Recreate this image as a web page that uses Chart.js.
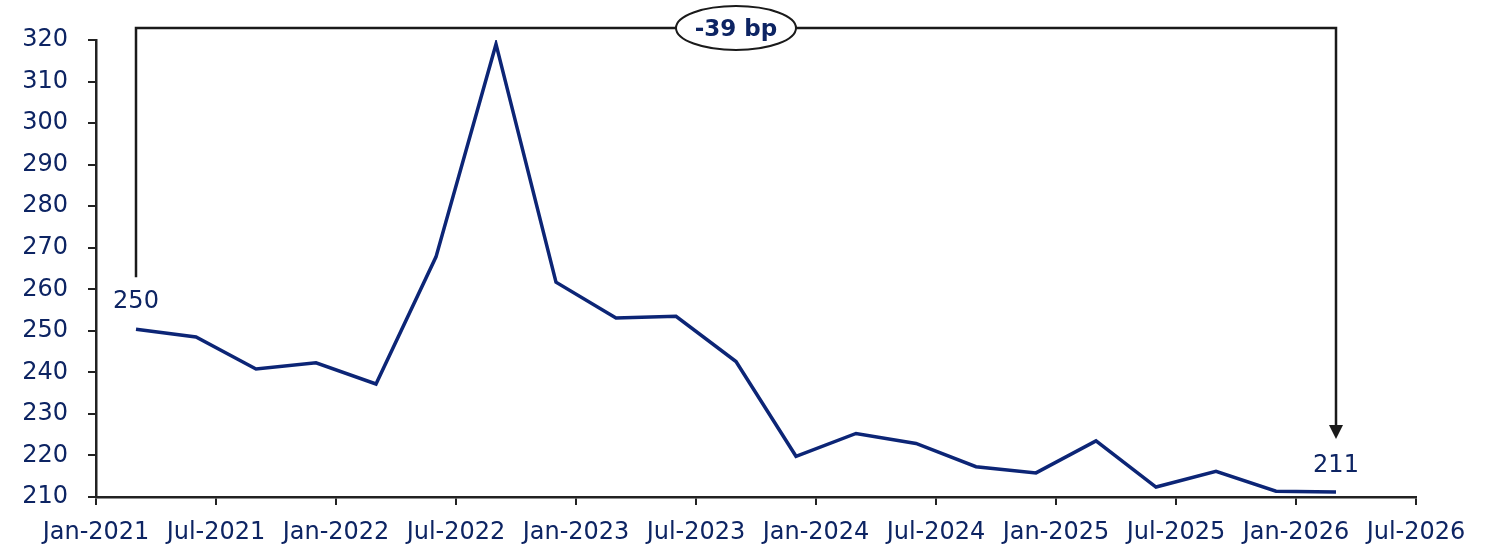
<!DOCTYPE html>
<html>
<head>
<meta charset="utf-8">
<script src="https://cdn.jsdelivr.net/npm/chart.js@4/dist/chart.umd.min.js"></script>
<style>
  html, body { margin: 0; padding: 0; background: #ffffff; }
  #wrap { width: 1486px; height: 548px; position: relative; }
</style>
</head>
<body>
<div id="wrap"><canvas id="c" width="1486" height="548"></canvas></div>
<script>
// Months since Jan-2021 for each observation
const months = [2, 5, 8, 11, 14, 17, 20, 23, 26, 29, 32, 35, 38, 41, 44, 47, 50, 53, 56, 59, 62];
const spreadValues = [250.4, 248.5, 240.8, 242.3, 237.2, 267.8, 319.0, 261.7, 253.1, 253.5, 242.6, 219.8, 225.3, 222.9, 217.3, 215.8, 223.5, 212.4, 216.2, 211.4, 211.2];
const xTickLabels = ["Jan-2021", "Jul-2021", "Jan-2022", "Jul-2022", "Jan-2023", "Jul-2023", "Jan-2024", "Jul-2024", "Jan-2025", "Jul-2025", "Jan-2026", "Jul-2026"];
const startLabel = "250";
const endLabel = "211";
const changeLabel = "-39 bp";

const NAVY = "#0d2463";
const LINE = "#0c2576";
const AXIS = "#222222";
const FONT = "'DejaVu Sans', 'Liberation Sans', Arial, sans-serif";

const points = months.map((m, i) => ({ x: m, y: spreadValues[i] }));

const annot = {
  id: "annot",
  afterDatasetsDraw(chart) {
    const { ctx, scales } = chart;
    const xs = scales.x, ys = scales.y;
    const first = points[0], last = points[points.length - 1];
    const x0 = xs.getPixelForValue(first.x);
    const x1 = xs.getPixelForValue(last.x);
    const yFirst = ys.getPixelForValue(first.y);
    const yLast = ys.getPixelForValue(last.y);
    const topY = 28;

    ctx.save();
    ctx.strokeStyle = "#1a1a1a";
    ctx.lineWidth = 2.5;
    ctx.beginPath();
    ctx.moveTo(x0, yFirst - 52);
    ctx.lineTo(x0, topY);
    ctx.lineTo(x1, topY);
    ctx.lineTo(x1, yLast - 62);
    ctx.stroke();
    ctx.fillStyle = "#1a1a1a";
    ctx.beginPath();
    ctx.moveTo(x1 - 7, yLast - 67);
    ctx.lineTo(x1 + 7, yLast - 67);
    ctx.lineTo(x1, yLast - 53);
    ctx.closePath();
    ctx.fill();

    const cx = (x0 + x1) / 2;
    ctx.beginPath();
    ctx.ellipse(cx, 28, 60, 22, 0, 0, Math.PI * 2);
    ctx.fillStyle = "#ffffff";
    ctx.fill();
    ctx.lineWidth = 2;
    ctx.strokeStyle = "#1a1a1a";
    ctx.stroke();
    ctx.fillStyle = NAVY;
    ctx.font = "bold 23px " + FONT;
    ctx.textAlign = "center";
    ctx.textBaseline = "middle";
    ctx.fillText(changeLabel, cx, 30);

    ctx.font = "24px " + FONT;
    ctx.fillText(startLabel, x0, yFirst - 27);
    ctx.fillText(endLabel, x1, yLast - 26);
    ctx.restore();
  }
};

new Chart(document.getElementById("c"), {
  type: "line",
  data: {
    datasets: [{
      data: points,
      borderColor: LINE,
      borderWidth: 3.5,
      pointRadius: 0,
      tension: 0,
      fill: false
    }]
  },
  options: {
    responsive: false,
    animation: false,
    layout: { padding: { top: 40, right: 70, left: 0, bottom: 0 } },
    plugins: { legend: { display: false }, tooltip: { enabled: false } },
    scales: {
      x: {
        type: "linear",
        min: 0,
        max: 66,
        afterBuildTicks(scale) {
          scale.ticks = xTickLabels.map((_, i) => ({ value: i * 6 }));
        },
        afterFit(scale) { scale.height = 51; },
        ticks: {
          callback: (v) => xTickLabels[Math.round(v / 6)],
          color: NAVY,
          font: { family: FONT, size: 24 },
          padding: 13,
          maxRotation: 0,
          autoSkip: false
        },
        grid: { drawOnChartArea: false, drawTicks: true, tickLength: 8, color: AXIS, lineWidth: 2 },
        border: { display: true, color: AXIS, width: 2.5 }
      },
      y: {
        min: 210,
        max: 320,
        afterFit(scale) { scale.width = 96; },
        ticks: {
          stepSize: 10,
          color: NAVY,
          font: { family: FONT, size: 24 },
          padding: 20
        },
        grid: { drawOnChartArea: false, drawTicks: true, tickLength: 8, color: AXIS, lineWidth: 2 },
        border: { display: true, color: AXIS, width: 2.5 }
      }
    }
  },
  plugins: [annot]
});
</script>
</body>
</html>
